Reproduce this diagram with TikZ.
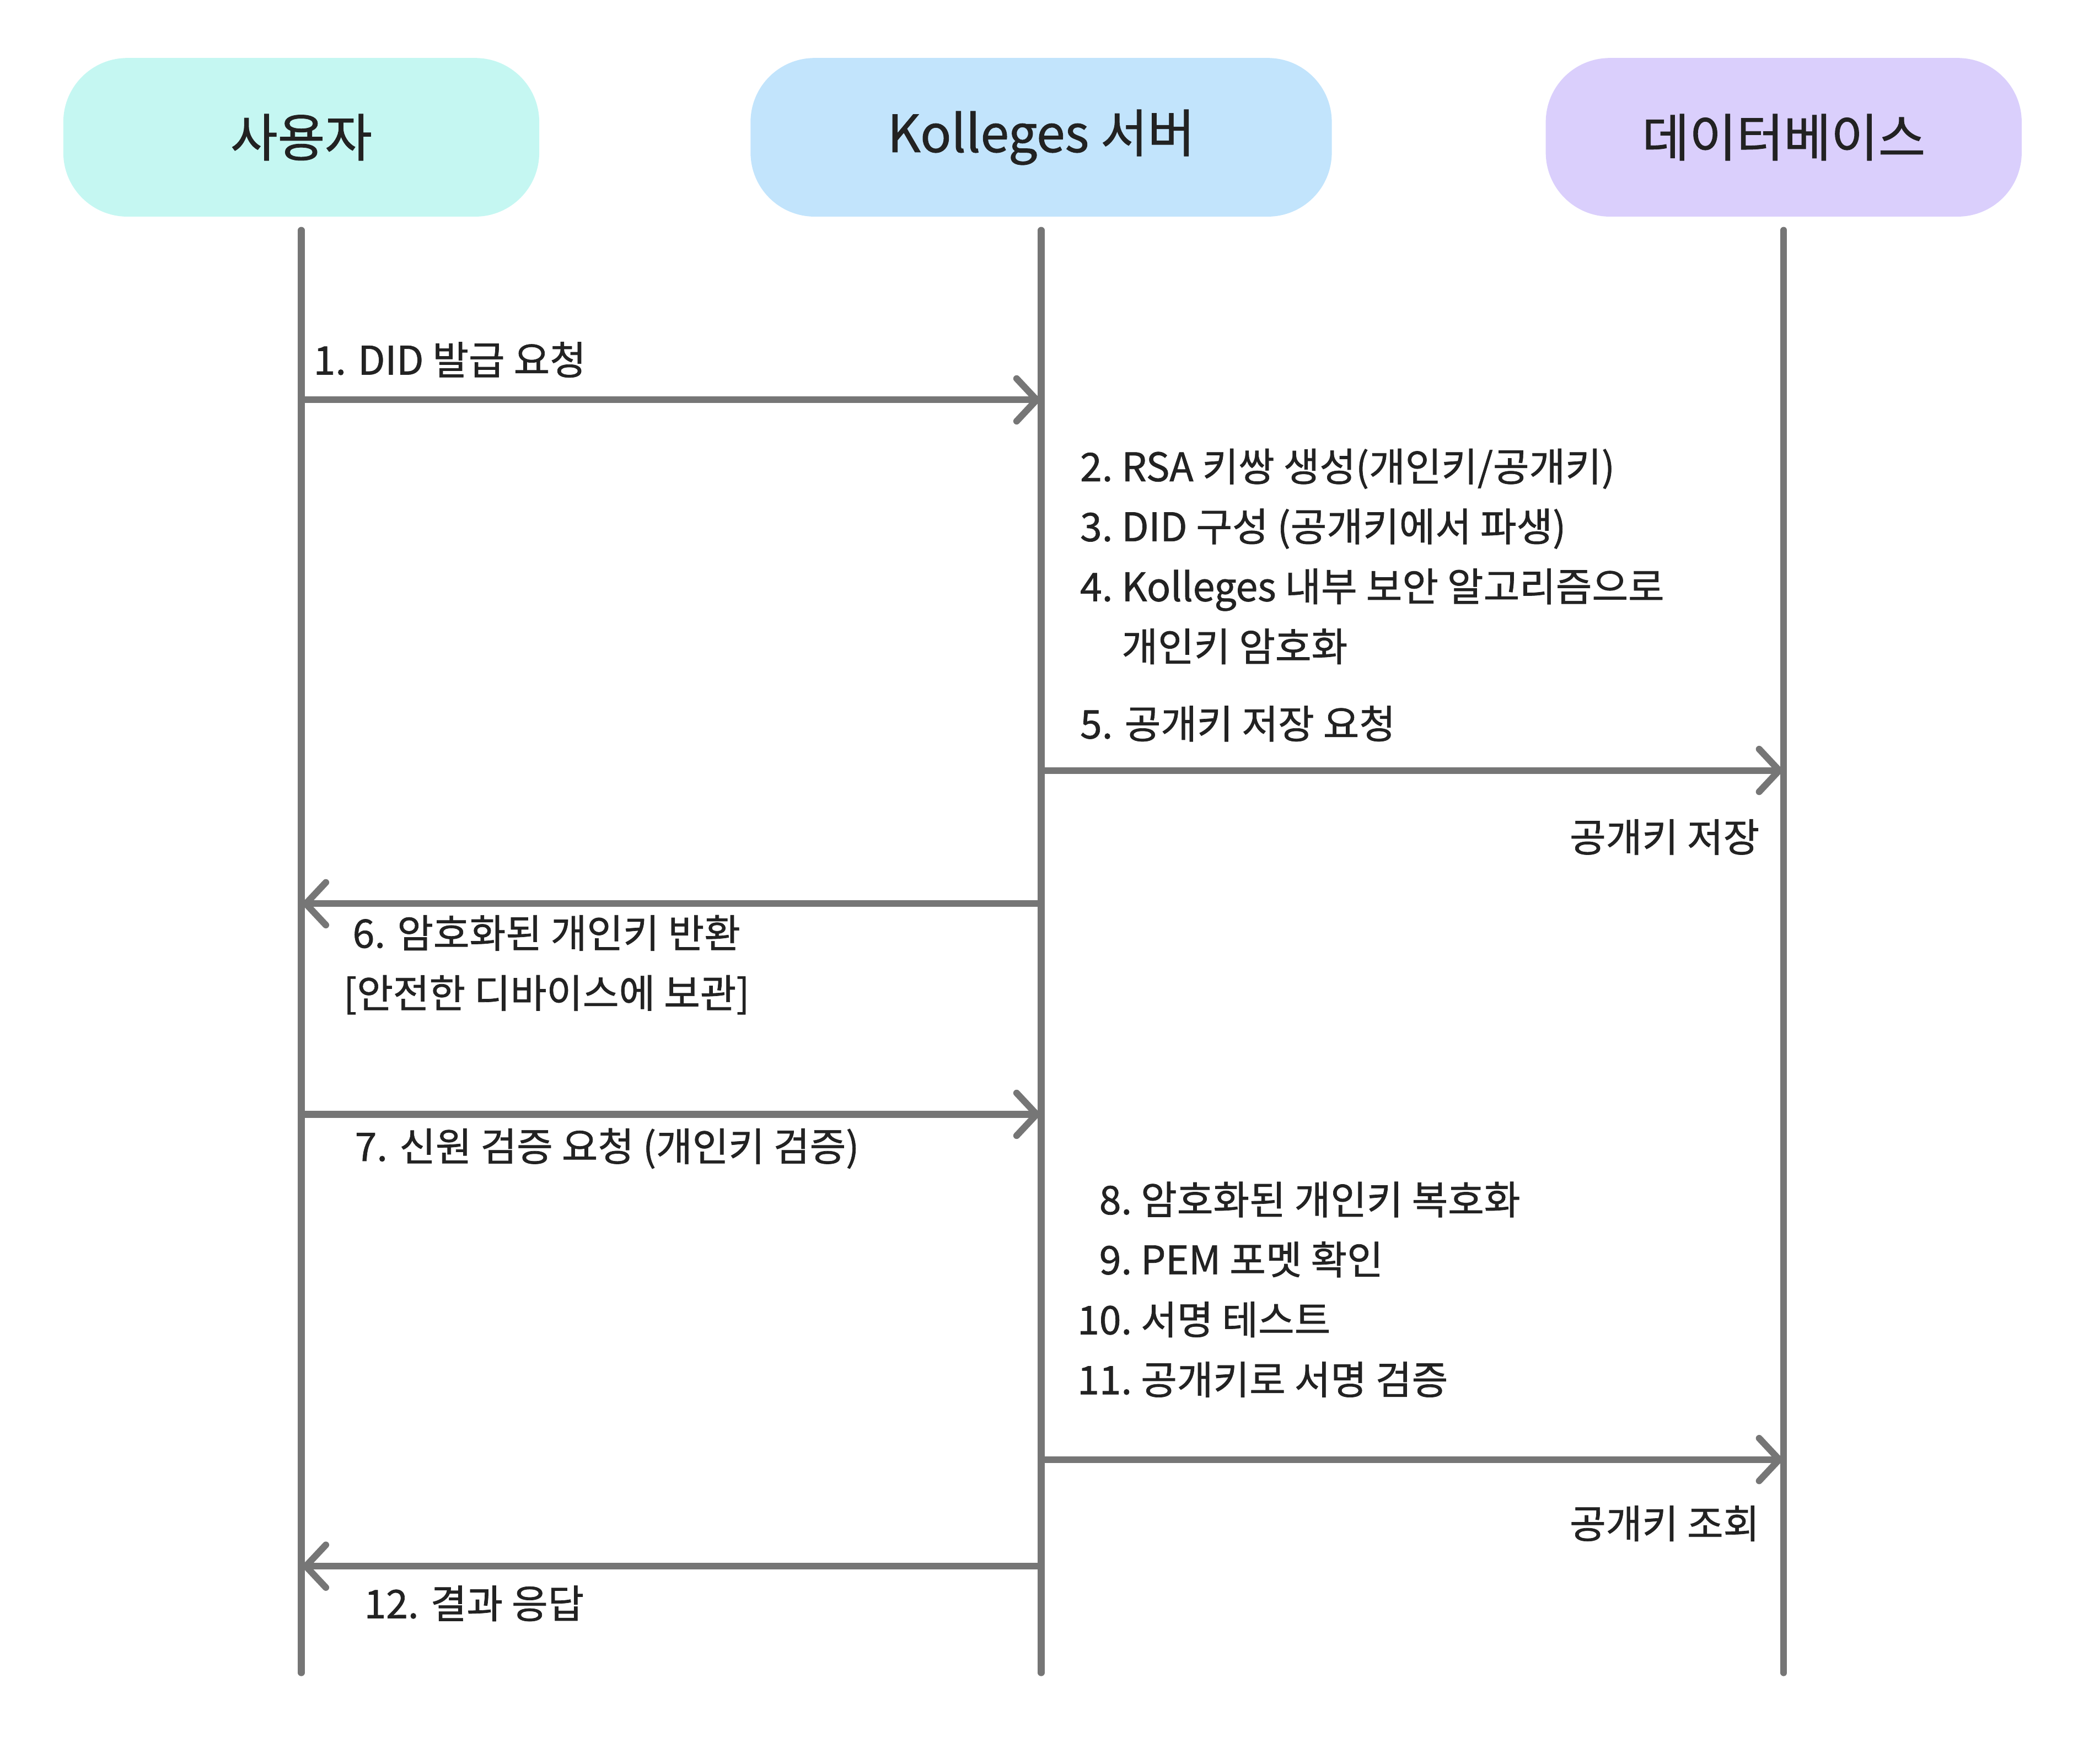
\documentclass[tikz,border=0pt]{standalone}
\usepackage{fontspec}
\setmainfont{Noto Sans CJK KR}[FakeBold=1]
\usetikzlibrary{arrows.meta}
\definecolor{userbg}{RGB}{197,247,242}
\definecolor{serverbg}{RGB}{194,228,252}
\definecolor{dbbg}{RGB}{218,207,252}
\definecolor{wire}{RGB}{118,118,118}
\definecolor{ink}{RGB}{34,34,34}
\begin{document}
\begin{tikzpicture}[x=1pt,y=-1pt,
  actor/.style={rounded corners=48pt,minimum width=357pt,minimum height=119pt,font=\fontsize{38.5}{46}\selectfont,text=ink},
  life/.style={line width=5pt,draw=wire,line cap=round},
  msg/.style={line width=5pt,draw=wire,line cap=round,-{Straight Barb[length=15pt,width=32pt,line cap=round]}},
  lbl/.style={font=\fontsize{29.5}{45}\selectfont,text=ink,inner sep=0pt}]
\useasboundingbox (0,0) rectangle (1567,1323);
\node[actor,fill=userbg] (U) at (226,103) {사용자};
\node[actor,fill=serverbg,minimum width=436pt] (S) at (781,103) {Kolleges 서버};
\node[actor,fill=dbbg] (D) at (1338,103) {데이터베이스};
\draw[life] ([yshift=-10pt]U.south) -- (U |- 0,1255);
\draw[life] ([yshift=-10pt]S.south) -- (S |- 0,1255);
\draw[life] ([yshift=-10pt]D.south) -- (D |- 0,1255);
\draw[msg] (U |- 0,300) -- (S |- 0,300);
\node[lbl,anchor=base west] (l1) at (235,281) {1. DID 발급 요청};
\node[lbl,anchor=base west] (l2) at (810,361) {\begin{tabular}[t]{@{}r@{\ }l@{}}
2.&RSA 키쌍 생성(개인키/공개키)\\
3.&DID 구성 (공개키에서 파생)\\
4.&Kolleges 내부 보안 알고리즘으로\\
&개인키 암호화\end{tabular}};
\node[lbl,anchor=base west] (l5) at (810,554) {5. 공개키 저장 요청};
\draw[msg] (S |- 0,578) -- (D |- 0,578);
\node[lbl,anchor=base east] (store) at (1320,639) {공개키 저장};
\draw[msg] (S |- 0,678) -- (U |- 0,678);
\node[lbl,anchor=base] (l6) at (410,711) {\begin{tabular}[t]{@{}c@{}}
6. 암호화된 개인키 반환\\
{[}안전한 디바이스에 보관]\end{tabular}};
\draw[msg] (U |- 0,836) -- (S |- 0,836);
\node[lbl,anchor=base west] (l7) at (266,871) {7. 신원 검증 요청 (개인키 검증)};
\node[lbl,anchor=base west] (l8) at (808,911) {\begin{tabular}[t]{@{}r@{\ }l@{}}
8.&암호화된 개인키 복호화\\
9.&PEM 포멧 확인\\
10.&서명 테스트\\
11.&공개키로 서명 검증\end{tabular}};
\draw[msg] (S |- 0,1095) -- (D |- 0,1095);
\node[lbl,anchor=base east] (fetch) at (1320,1154) {공개키 조회};
\draw[msg] (S |- 0,1175) -- (U |- 0,1175);
\node[lbl,anchor=base west] (l12) at (273,1214) {12. 결과 응답};
\end{tikzpicture}
\end{document}
